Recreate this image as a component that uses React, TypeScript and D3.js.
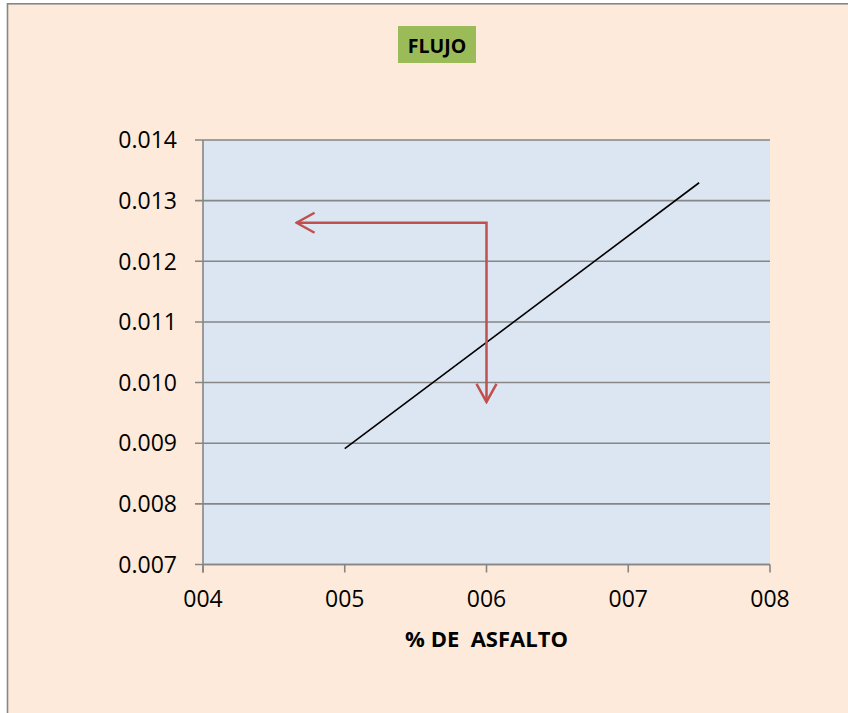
import React from "react";
import * as d3 from "d3";

// valores
const xTicks = [4, 5, 6, 7, 8];
const xTickLabels = ["004", "005", "006", "007", "008"];
const yTicks = [0.007, 0.008, 0.009, 0.01, 0.011, 0.012, 0.013, 0.014];
const yTickLabels = ["0.007", "0.008", "0.009", "0.010", "0.011", "0.012", "0.013", "0.014"];

const flujoX = [5, 7.5];
const flujoY = [0.00891, 0.013295];

const flechaX = [4.66, 6, 6];
const flechaY = [0.012635, 0.012635, 0.00968];

const FONT = "'Open Sans', 'DejaVu Sans', sans-serif";

export default function App() {
    const plot = {left: 203, right: 770, top: 140, bottom: 564.5};

    const xScale = d3.scaleLinear().domain([4, 8]).range([plot.left, plot.right]);
    const yScale = d3.scaleLinear().domain([0.007, 0.014]).range([plot.bottom, plot.top]);

    const linea = d3.line<[number, number]>()
        .x((d) => xScale(d[0]))
        .y((d) => yScale(d[1]));

    const flujoPath = linea(flujoX.map((x, i) => [x, flujoY[i]]));
    const flechaPath = linea(flechaX.map((x, i) => [x, flechaY[i]]));

    const grid = "#868686";

    return (
        <svg
            width={848}
            height={713}
            style={{position: "absolute", left: 0, top: 0}}
        >
            <defs>
                <marker
                    id="punta"
                    viewBox="-20 -12 22 24"
                    refX={0}
                    refY={0}
                    markerWidth={22}
                    markerHeight={24}
                    markerUnits="userSpaceOnUse"
                    orient="auto-start-reverse"
                >
                    <path d="M -18 -10 L 0 0 L -18 10" fill="none" stroke="#C0504D" strokeWidth={2.5}/>
                </marker>
            </defs>
            <rect x={0} y={0} width={848} height={713} fill="#ffffff"/>
            <rect x={7.5} y={3.8} width={860} height={730} fill="#FDEADA" stroke={grid} strokeWidth={1.6}/>

            {/* titulo */}
            <rect x={398} y={26} width={78} height={37} fill="#9BBB59"/>
            <text x={437} y={52.5} textAnchor="middle" fontFamily={FONT} fontWeight="bold"
                  fontSize={19.5} fill="#000">FLUJO</text>

            {/* area del grafico */}
            <rect x={plot.left} y={plot.top} width={plot.right - plot.left}
                  height={plot.bottom - plot.top} fill="#DCE6F2"/>

            {yTicks.map((t, i) => (
                <g key={"y" + i}>
                    <line x1={plot.left - 8} x2={plot.right} y1={yScale(t)} y2={yScale(t)}
                          stroke={grid} strokeWidth={1.6}/>
                    <text x={177} y={yScale(t)} dy="0.36em" textAnchor="end" fontFamily={FONT}
                          fontSize={23} fill="#000">{yTickLabels[i]}</text>
                </g>
            ))}

            {xTicks.map((t, i) => (
                <g key={"x" + i}>
                    <line x1={xScale(t)} x2={xScale(t)} y1={plot.bottom} y2={plot.bottom + 8}
                          stroke={grid} strokeWidth={1.6}/>
                    <text x={xScale(t)} y={607} textAnchor="middle" fontFamily={FONT}
                          fontSize={23} fill="#000">{xTickLabels[i]}</text>
                </g>
            ))}

            <line x1={plot.left} x2={plot.left} y1={plot.top} y2={plot.bottom + 8}
                  stroke={grid} strokeWidth={1.6}/>
            <line x1={plot.left} x2={plot.right} y1={plot.bottom} y2={plot.bottom}
                  stroke={grid} strokeWidth={1.6}/>

            <path d={flujoPath ?? ""} fill="none" stroke="#000" strokeWidth={1.6}/>
            <path d={flechaPath ?? ""} fill="none" stroke="#C0504D" strokeWidth={2.5}
                  markerStart="url(#punta)" markerEnd="url(#punta)"/>

            <text x={(plot.left + plot.right) / 2} y={646.5} textAnchor="middle" fontFamily={FONT}
                  fontWeight="bold" fontSize={22} fill="#000" style={{whiteSpace: "pre"}}>
                {"% DE  ASFALTO"}
            </text>
        </svg>
    );
}
